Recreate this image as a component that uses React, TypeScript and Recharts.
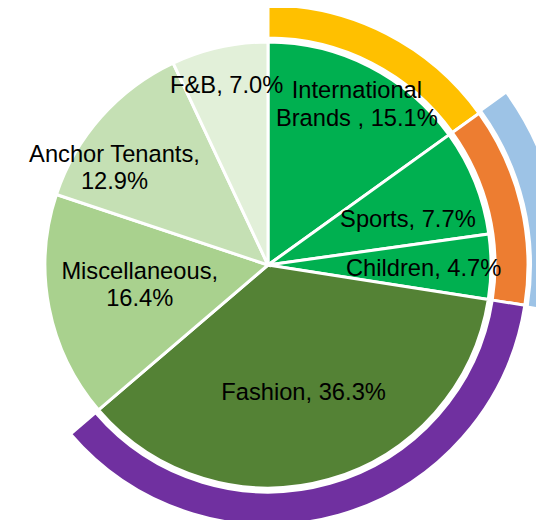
import React from "react";
import { PieChart, Pie, Cell } from "recharts";

// ---- data ----
const categories = [
  "International Brands ",
  "Sports",
  "Children",
  "Fashion",
  "Miscellaneous",
  "Anchor Tenants",
  "F&B",
];
const shares = [15.1, 7.7, 4.7, 36.3, 16.4, 12.9, 7.0];

const ringGroups = ["International", "Sports & Children", "Fashion", "Other"];
const ringShares = [15.1, 12.4, 36.3, 36.3];

const blueGroups = ["Before", "Sports & Children", "After"];
const blueShares = [15.1, 12.4, 72.6];

// ---- styles ----
const sliceColors = ["#00B050", "#00B050", "#00B050", "#548235", "#A9D18E", "#C5E0B4", "#E2F0D9"];
const ringColors = ["#FFC000", "#ED7D31", "#7030A0", "none"];
const blueColors = ["none", "#9DC3E6", "none"];

// label placement: radius from centre and angle offset from the slice mid-angle
const labelPlacement = [
  { r: 189, da: -0.9, breakAfter: "International" },
  { r: 145, da: -6.6, breakAfter: "" },
  { r: 156, da: -3.5, breakAfter: "" },
  { r: 140, da: -1.1, breakAfter: "" },
  { r: 129, da: -5.0, breakAfter: "Miscellaneous," },
  { r: 185, da: 7.7, breakAfter: "Anchor Tenants," },
  { r: 177, da: 0.9, breakAfter: "" },
];

const FONT = "'Liberation Sans', Arial, sans-serif";
const FONT_SIZE = 23.7;
const LINE_H = 27.5;

const innerData = categories.map((name, i) => ({ name, value: shares[i] }));
const ringData = ringGroups.map((name, i) => ({ name, value: ringShares[i] }));
const blueData = blueGroups.map((name, i) => ({ name, value: blueShares[i] }));

const renderLabel = (props: any) => {
  const { cx, cy, midAngle, index, value } = props;
  const p = labelPlacement[index];
  const a = ((midAngle + p.da) * Math.PI) / 180;
  const x = cx + p.r * Math.cos(a);
  const y = cy - p.r * Math.sin(a);
  const full = `${categories[index]}, ${Number(value).toFixed(1)}%`;
  let lines = [full];
  if (p.breakAfter && full.startsWith(p.breakAfter)) {
    lines = [p.breakAfter, full.slice(p.breakAfter.length).trim()];
  }
  return (
    <text
      key={`lbl-${index}`}
      x={x}
      y={y}
      textAnchor="middle"
      fill="#000"
      fontFamily={FONT}
      fontSize={FONT_SIZE}
    >
      {lines.map((ln, k) => (
        <tspan key={k} x={x} y={y + k * LINE_H}>
          {ln}
        </tspan>
      ))}
    </text>
  );
};

export default function App() {
  const cx = 260;
  const cy = 257;
  return (
    <div style={{ width: 544, height: 520 }}>
      <PieChart width={544} height={520} margin={{ top: 0, right: 0, bottom: 0, left: 0 }}>
        <Pie
          data={blueData}
          dataKey="value"
          nameKey="name"
          cx={cx}
          cy={cy}
          innerRadius={264}
          outerRadius={293}
          startAngle={90}
          endAngle={-270}
          stroke="none"
          isAnimationActive={false}
        >
          {blueData.map((d, i) => (
            <Cell key={i} fill={blueColors[i]} stroke="none" />
          ))}
        </Pie>
        <Pie
          data={ringData}
          dataKey="value"
          nameKey="name"
          cx={cx}
          cy={cy}
          innerRadius={227}
          outerRadius={260}
          startAngle={90}
          endAngle={-270}
          isAnimationActive={false}
        >
          {ringData.map((d, i) => (
            <Cell
              key={i}
              fill={ringColors[i]}
              stroke={ringColors[i] === "none" ? "none" : "#FFFFFF"}
              strokeWidth={3}
            />
          ))}
        </Pie>
        <Pie
          data={innerData}
          dataKey="value"
          nameKey="name"
          cx={cx}
          cy={cy}
          innerRadius={0}
          outerRadius={223}
          startAngle={90}
          endAngle={-270}
          labelLine={false}
          label={renderLabel}
          isAnimationActive={false}
        >
          {innerData.map((d, i) => (
            <Cell key={i} fill={sliceColors[i]} stroke="#FFFFFF" strokeWidth={3} />
          ))}
        </Pie>
      </PieChart>
    </div>
  );
}
